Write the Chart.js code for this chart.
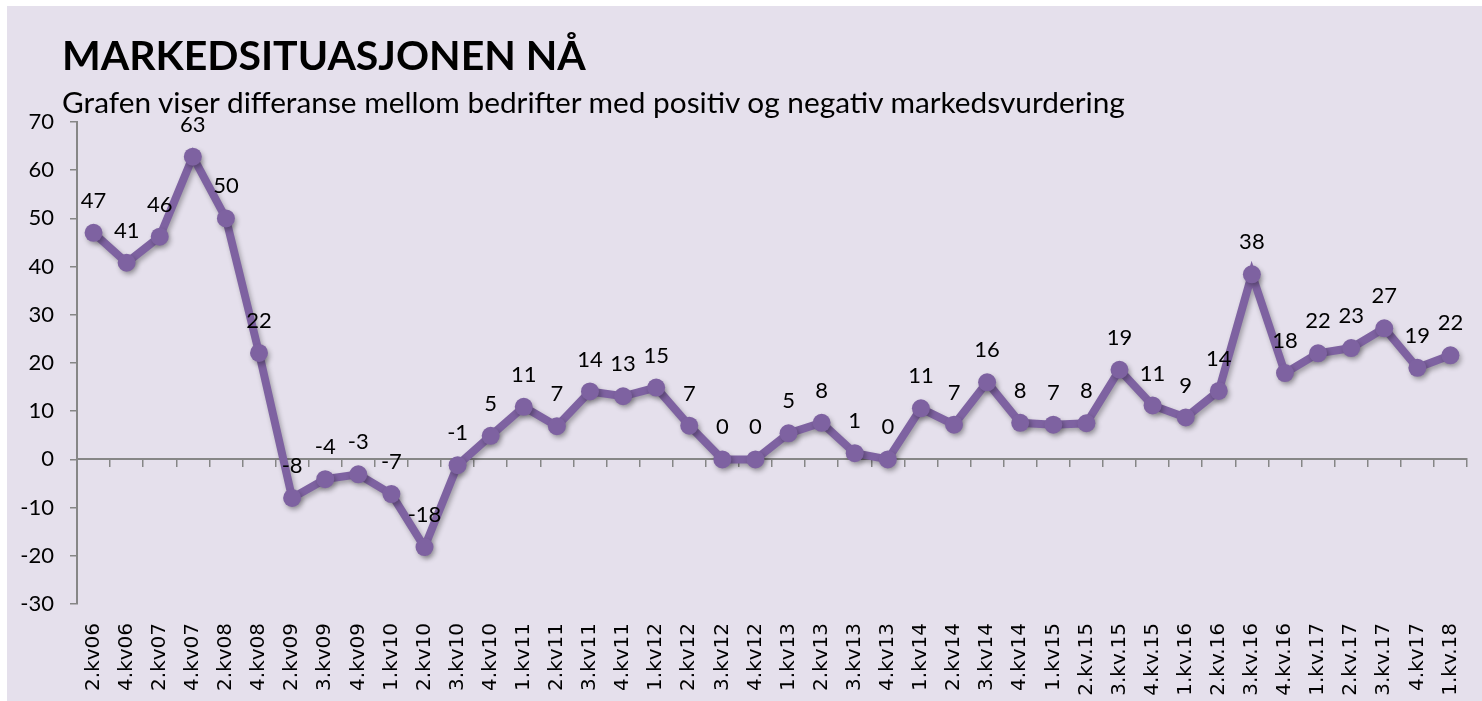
<!DOCTYPE html>
<html>
<head>
<meta charset="utf-8">
<title>Markedsituasjonen nå</title>
<script src="https://cdn.jsdelivr.net/npm/chart.js@4.4.1/dist/chart.umd.min.js"></script>
<style>
    html, body { margin: 0; padding: 0; background: #ffffff; overflow: hidden; }
    #wrap { position: absolute; left: 7px; top: 6px; width: 1475px; height: 695px; background: #E5E0EC; }
    #title { position: absolute; left: 62px; top: 34px; margin: 0; font: bold 41px/1 Lato, sans-serif; color: #000; white-space: nowrap; }
    #subtitle { position: absolute; left: 62px; top: 87px; margin: 0; font: 29.8px/1 Lato, sans-serif; color: #000; white-space: nowrap; }
</style>
</head>
<body>
<div id="wrap"><canvas id="chart"></canvas></div>
<h1 id="title">MARKEDSITUASJONEN NÅ</h1>
<p id="subtitle">Grafen viser differanse mellom bedrifter med positiv og negativ markedsvurdering</p>
<script>
    "use strict";

    // Quarters on the x axis
    var labels = [
        '2.kv06', '4.kv06', '2.kv07', '4.kv07', '2.kv08', '4.kv08', '2.kv09', '3.kv09', '4.kv09',
        '1.kv10', '2.kv10', '3.kv10', '4.kv10', '1.kv11', '2.kv11', '3.kv11', '4.kv11',
        '1.kv12', '2.kv12', '3.kv12', '4.kv12', '1.kv13', '2.kv13', '3.kv13', '4.kv13',
        '1.kv14', '2.kv14', '3.kv14', '4.kv14', '1.kv15', '2.kv.15', '3.kv.15', '4.kv.15',
        '1.kv.16', '2.kv.16', '3.kv.16', '4.kv.16', '1.kv.17', '2.kv.17', '3.kv.17', '4.kv17', '1.kv.18'
    ];

    // Difference positive - negative market assessment
    var values = [
        47, 40.8, 46.2, 62.8, 50, 22.1, -8, -4.1, -3.1,
        -7.2, -18.2, -1.2, 4.9, 10.9, 6.9, 14.1, 13.1,
        14.9, 7, 0, 0, 5.4, 7.6, 1.3, 0,
        10.6, 7.2, 16, 7.6, 7.2, 7.5, 18.6, 11.2,
        8.7, 14.2, 38.4, 17.9, 22, 23.1, 27.2, 19, 21.6
    ];

    // y axis range
    var yMin = -30;
    var yMax = 70;
    var yStep = 10;

    var lineColor = '#7E62A1';
    var axisColor = '#868686';

    // soft shadow under the line, like the original
    var lineShadow = {
        id: 'lineShadow',
        beforeDatasetDraw: function (chart) {
            var ctx = chart.ctx;
            ctx.save();
            ctx.shadowColor = 'rgba(0,0,0,0.3)';
            ctx.shadowBlur = 5;
            ctx.shadowOffsetX = 2;
            ctx.shadowOffsetY = 3;
        },
        afterDatasetDraw: function (chart) {
            chart.ctx.restore();
        }
    };

    // value labels above each point
    var pointLabels = {
        id: 'pointLabels',
        afterDatasetsDraw: function (chart) {
            var ctx = chart.ctx;
            var meta = chart.getDatasetMeta(0);
            ctx.save();
            ctx.font = '22px Lato';
            ctx.fillStyle = '#000000';
            ctx.textAlign = 'center';
            ctx.textBaseline = 'middle';
            meta.data.forEach(function (pt, i) {
                ctx.fillText(String(Math.round(values[i])), pt.x, pt.y - 32);
            });
            ctx.restore();
        }
    };

    var ctx = document.getElementById('chart').getContext('2d');
    var myChart = new Chart(ctx, {
        type: 'line',
        data: {
            labels: labels,
            datasets: [{
                data: values,
                borderColor: lineColor,
                backgroundColor: lineColor,
                borderWidth: 8,
                pointRadius: 9,
                pointBorderWidth: 0,
                pointBackgroundColor: lineColor,
                tension: 0,
                fill: false
            }]
        },
        options: {
            responsive: true,
            maintainAspectRatio: false,
            animation: false,
            layout: { padding: { top: 116, left: 0, right: 15, bottom: 0 } },
            plugins: {
                legend: { display: false },
                tooltip: { enabled: false }
            },
            scales: {
                // axis line crossing at zero, ticks only
                x: {
                    type: 'category',
                    offset: true,
                    position: { y: 0 },
                    grid: { display: true, offset: true, drawOnChartArea: false, drawTicks: true, tickLength: 7, color: axisColor, lineWidth: 1.5 },
                    border: { display: true, color: axisColor, width: 2 },
                    ticks: { display: false }
                },
                // category labels at the bottom
                x2: {
                    type: 'category',
                    labels: labels,
                    offset: true,
                    position: 'bottom',
                    grid: { display: false, drawTicks: false },
                    border: { display: false },
                    ticks: {
                        autoSkip: false,
                        minRotation: 90,
                        maxRotation: 90,
                        padding: 19,
                        color: '#000000',
                        font: { family: 'DejaVu Sans', size: 20 }
                    },
                    afterFit: function (scale) {
                        scale.height = 97;
                        scale.paddingLeft = 0;
                        scale.paddingRight = 0;
                    }
                },
                y: {
                    min: yMin,
                    max: yMax,
                    position: 'left',
                    ticks: { stepSize: yStep, padding: 16, color: '#000000', font: { family: 'Lato', size: 22 } },
                    grid: { drawOnChartArea: false, tickLength: 7, color: axisColor, lineWidth: 1.5 },
                    border: { color: axisColor, width: 2 },
                    afterFit: function (scale) { scale.width = 70; }
                }
            }
        },
        plugins: [lineShadow, pointLabels]
    });
</script>
</body>
</html>
